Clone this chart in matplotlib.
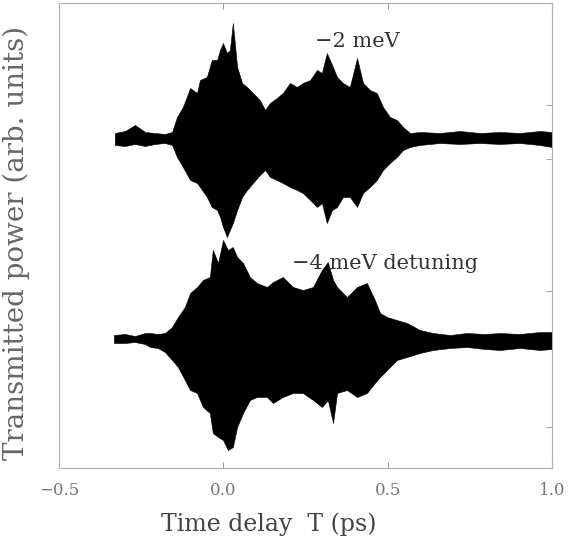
import matplotlib
matplotlib.use("Agg")
import matplotlib.pyplot as plt

# time delay (ps) and envelope (arb. units), -2 meV trace
t_2mev = [-0.330, -0.299, -0.269, -0.238, -0.208, -0.178, -0.156, -0.141, -0.123, -0.101,
          -0.080, -0.071, -0.050, -0.035, -0.019, -0.010, -0.001, 0.011, 0.020, 0.029,
          0.042, 0.057, 0.072, 0.090, 0.111, 0.127, 0.142, 0.163, 0.181, 0.203,
          0.224, 0.242, 0.264, 0.285, 0.300, 0.315, 0.331, 0.346, 0.364, 0.385,
          0.407, 0.425, 0.446, 0.467, 0.486, 0.507, 0.528, 0.547, 0.568, 0.598,
          0.659, 0.720, 0.781, 0.842, 0.902, 0.963, 1.000]
up_2mev = [335, 337, 343, 336, 335, 334, 336, 351, 361, 380,
           375, 388, 391, 408, 408, 418, 425, 415, 418, 445,
           401, 385, 381, 375, 368, 358, 365, 370, 375, 385,
           381, 385, 388, 398, 395, 415, 403, 391, 385, 381,
           410, 385, 378, 375, 361, 351, 348, 341, 335, 336,
           335, 337, 335, 336, 335, 337, 336]
lo_2mev = [323, 322, 324, 322, 324, 325, 323, 311, 301, 288,
           285, 281, 271, 261, 258, 251, 241, 231, 238, 245,
           258, 271, 278, 285, 293, 298, 291, 288, 285, 281,
           278, 275, 268, 261, 265, 245, 258, 261, 271, 271,
           261, 275, 281, 288, 298, 305, 311, 318, 321, 323,
           325, 324, 325, 324, 325, 323, 321]

# -4 meV detuning trace
t_4mev = [-0.333, -0.299, -0.269, -0.238, -0.223, -0.199, -0.178, -0.156, -0.138, -0.117,
          -0.101, -0.080, -0.062, -0.041, -0.032, -0.016, -0.001, 0.014, 0.029, 0.042,
          0.060, 0.081, 0.102, 0.133, 0.151, 0.181, 0.212, 0.242, 0.273, 0.300,
          0.318, 0.334, 0.346, 0.376, 0.407, 0.437, 0.461, 0.477, 0.498, 0.528,
          0.559, 0.598, 0.638, 0.690, 0.741, 0.796, 0.842, 0.902, 0.963, 1.000]
up_4mev = [133, 134, 132, 135, 135, 134, 135, 141, 151, 161,
           175, 181, 188, 191, 218, 205, 228, 218, 221, 211,
           205, 191, 185, 181, 186, 191, 181, 178, 181, 198,
           206, 188, 181, 171, 181, 185, 168, 155, 151, 148,
           145, 138, 135, 133, 135, 134, 135, 134, 136, 136]
lo_4mev = [125, 125, 126, 124, 121, 120, 116, 108, 101, 88,
           78, 75, 61, 55, 35, 31, 28, 18, 21, 41,
           55, 68, 71, 71, 65, 71, 75, 75, 68, 61,
           68, 45, 75, 78, 71, 75, 85, 91, 98, 108,
           111, 115, 118, 120, 121, 119, 118, 120, 118, 119]

xticks = [-0.5, 0.0, 0.5, 1.0]
xtick_labels = ["\u22120.5", "0.0", "0.5", "1.0"]

plt.rcParams['font.family'] = ['DejaVu Serif']
fig = plt.figure(figsize=(5.69, 5.42), dpi=100)
ax = fig.add_axes([0.1037, 0.1365, 0.8663, 0.858])

ax.fill_between(t_2mev, lo_2mev, up_2mev, color="black", linewidth=0.4)
ax.fill_between(t_4mev, lo_4mev, up_4mev, color="black", linewidth=0.4)

ax.text(0.280, 421, "\u22122 meV", fontsize=15, color="#333333")
ax.text(0.210, 199, "\u22124 meV detuning", fontsize=15, color="#333333")

ax.set_xlim(-0.5, 1.0)
ax.set_ylim(0, 465)
ax.set_xticks(xticks)
ax.set_xticklabels(xtick_labels, fontsize=12, color="#777777")
ax.set_yticks([41, 177, 309, 363])
ax.tick_params(axis="y", which="both", left=False, right=True, labelleft=False,
               direction="in", length=4, color="#aaaaaa")
ax.tick_params(axis="x", top=True, direction="in", length=4, color="#999999", pad=10)
for side in ax.spines.values():
    side.set_color("#b0b0b0")
    side.set_linewidth(0.8)

ax.set_xlabel("Time delay  T (ps)", fontsize=17, color="#444444")
ax.xaxis.set_label_coords(0.425, -0.095)
ax.set_ylabel("Transmitted power (arb. units)", fontsize=20, color="#666666")
ax.yaxis.set_label_coords(-0.058, 0.484)

fig.savefig("out.png", dpi=100)
